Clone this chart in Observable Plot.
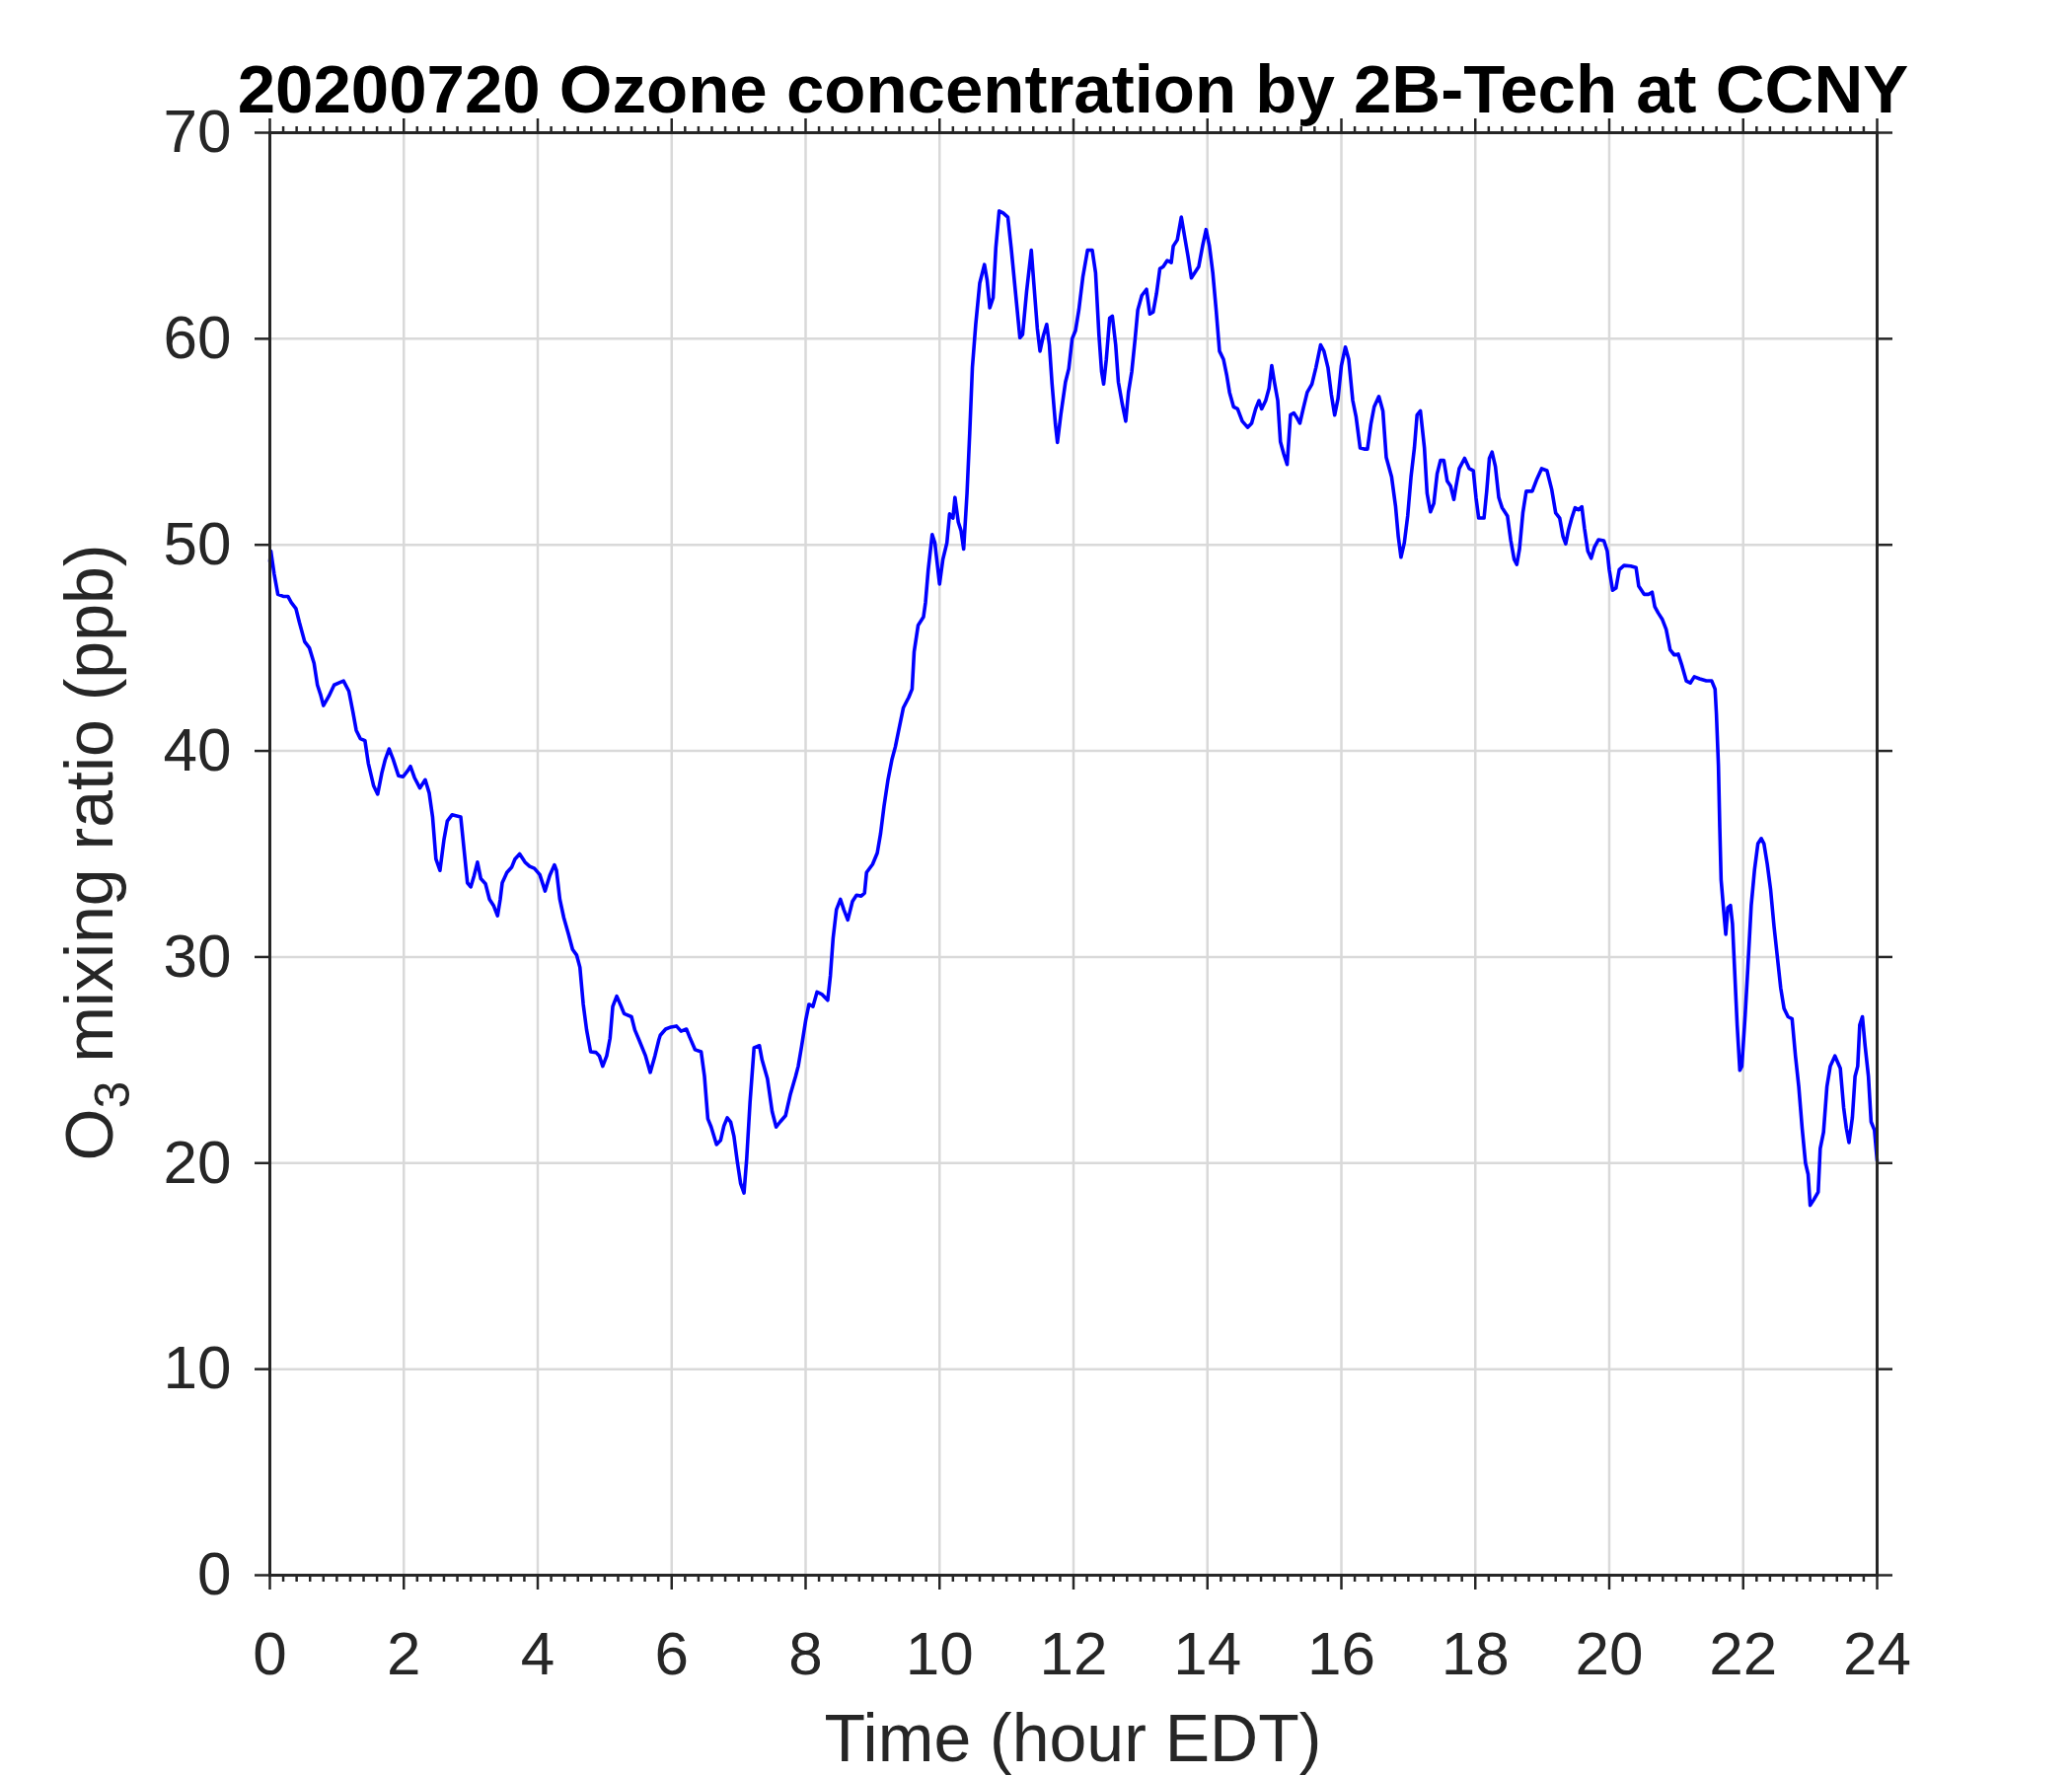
<!DOCTYPE html>
<html>
<head>
<meta charset="utf-8">
<script src="https://cdn.jsdelivr.net/npm/d3@7"></script>
<script src="https://cdn.jsdelivr.net/npm/@observablehq/plot@0.6"></script>
<style>
  body { margin: 0; background: #fff; }
  #wrap { position: relative; width: 2100px; height: 1800px; }
  #title {
    position: relative; z-index: 2; height: 120px; width: 2175px;
    text-align: center; white-space: nowrap; box-sizing: border-box;
    font-family: "Liberation Sans", Arial, sans-serif; font-weight: bold;
    font-size: 69px; line-height: 69px; padding-top: 55.6px; color: #000;
  }
  #chart svg { display: block; }
</style>
</head>
<body>
<div id="wrap">
  <div id="title">20200720 Ozone concentration by 2B-Tech at CCNY</div>
  <div id="chart"></div>
</div>
<script>
// ---- data ----
const hours = [
  0, 0.015, 0.064, 0.12, 0.2, 0.27, 0.32, 0.39, 0.44, 0.52, 0.59, 0.66, 0.71, 0.76, 0.80, 0.88, 0.96,
  1.03, 1.1, 1.18, 1.24, 1.29, 1.35, 1.42, 1.47, 1.55, 1.61, 1.67, 1.72, 1.78, 1.84, 1.92, 1.99,
  2.05, 2.1, 2.16, 2.24, 2.32, 2.38, 2.43, 2.48, 2.54, 2.60, 2.65, 2.72, 2.85, 2.90, 2.95, 3.0,
  3.05, 3.1, 3.15, 3.22, 3.28, 3.34, 3.40, 3.44, 3.47, 3.54, 3.61, 3.66, 3.73, 3.81, 3.88, 3.95, 4.03,
  4.11, 4.18, 4.25, 4.28, 4.33, 4.39, 4.46, 4.52, 4.58, 4.63, 4.68, 4.73, 4.79, 4.87, 4.92, 4.97,
  5.03, 5.08, 5.12, 5.18, 5.24, 5.29, 5.40, 5.45, 5.51, 5.61, 5.68, 5.75, 5.81, 5.83, 5.91, 5.99,
  6.07, 6.14, 6.22, 6.27, 6.35, 6.44, 6.49, 6.54, 6.59, 6.67, 6.73, 6.78, 6.83, 6.88, 6.93, 6.98,
  7.03, 7.08, 7.12, 7.17, 7.23, 7.31, 7.35, 7.43, 7.5, 7.56, 7.62, 7.70, 7.77, 7.85, 7.89, 7.94,
  8.0, 8.05, 8.11, 8.17, 8.24, 8.33, 8.37, 8.41, 8.46, 8.52, 8.57, 8.63, 8.70, 8.76, 8.83, 8.88, 8.91,
  9.0, 9.07, 9.12, 9.17, 9.23, 9.29, 9.34, 9.39, 9.46, 9.54, 9.59, 9.62, 9.68, 9.76, 9.79, 9.83, 9.89, 9.93,
  10.0, 10.05, 10.11, 10.15, 10.2, 10.23, 10.28, 10.32, 10.36, 10.41, 10.45, 10.49, 10.54, 10.6, 10.67,
  10.71, 10.75, 10.8, 10.84, 10.89, 10.95, 11.02, 11.07, 11.14, 11.2, 11.24, 11.3, 11.37, 11.41, 11.46,
  11.5, 11.55, 11.6, 11.64, 11.68, 11.73, 11.76, 11.81, 11.88, 11.93, 11.98,
  12.03, 12.08, 12.14, 12.21, 12.28, 12.33, 12.38, 12.42, 12.45, 12.49, 12.54, 12.58, 12.63, 12.67,
  12.73, 12.78, 12.82, 12.87, 12.92, 12.96, 13.02, 13.09, 13.14, 13.19, 13.24, 13.29, 13.34, 13.4,
  13.46, 13.49, 13.55, 13.61, 13.66, 13.71, 13.76, 13.81, 13.87, 13.93, 13.98,
  14.03, 14.08, 14.13, 14.18, 14.24, 14.29, 14.33, 14.39, 14.45, 14.52, 14.6, 14.66, 14.72, 14.77,
  14.81, 14.87, 14.92, 14.96, 15.0, 15.05, 15.09, 15.14, 15.19, 15.24, 15.29, 15.33, 15.38, 15.43,
  15.49, 15.56, 15.62, 15.69, 15.74, 15.8, 15.85, 15.9, 15.95, 16.0, 16.06, 16.11, 16.17, 16.22,
  16.28, 16.34, 16.39, 16.44, 16.49, 16.56, 16.62, 16.67, 16.75, 16.81, 16.85, 16.89, 16.94, 16.99,
  17.04, 17.09, 17.13, 17.18, 17.24, 17.28, 17.33, 17.38, 17.43, 17.48, 17.53, 17.58, 17.63, 17.68,
  17.71, 17.76, 17.84, 17.91, 17.97, 18.01, 18.05, 18.13, 18.17, 18.21, 18.25, 18.3, 18.35, 18.4,
  18.48, 18.53, 18.58, 18.62, 18.66, 18.71, 18.76, 18.85, 18.92, 18.99, 19.07, 19.14, 19.2, 19.26,
  19.31, 19.35, 19.39, 19.44, 19.49, 19.54, 19.59, 19.63, 19.68, 19.73, 19.78, 19.84, 19.92, 19.97,
  20.0, 20.05, 20.1, 20.15, 20.22, 20.32, 20.4, 20.44, 20.52, 20.59, 20.64, 20.68, 20.73, 20.79,
  20.85, 20.91, 20.97, 21.03, 21.08, 21.15, 21.21, 21.27, 21.35, 21.45, 21.53, 21.58, 21.6, 21.63,
  21.65, 21.67, 21.71, 21.74, 21.77, 21.81, 21.84, 21.87, 21.91, 21.95, 21.98, 22.03, 22.07, 22.12,
  22.17, 22.22, 22.27, 22.31, 22.36, 22.41, 22.46, 22.51, 22.56, 22.61, 22.67, 22.73, 22.78, 22.83,
  22.88, 22.93, 22.97, 23.0, 23.05, 23.12, 23.15, 23.2, 23.25, 23.3, 23.37, 23.45, 23.5, 23.54,
  23.58, 23.63, 23.67, 23.71, 23.74, 23.78, 23.82, 23.87, 23.91, 23.96, 24.0
];
const ozone = [
  49.2, 49.7, 48.6, 47.6, 47.5, 47.5, 47.2, 46.9, 46.25, 45.3, 45.0, 44.25, 43.2, 42.7, 42.2, 42.65, 43.2,
  43.3, 43.4, 42.9, 41.9, 41.0, 40.6, 40.5, 39.4, 38.3, 37.9, 38.9, 39.55, 40.1, 39.6, 38.8, 38.75,
  39.0, 39.25, 38.7, 38.2, 38.6, 37.95, 36.8, 34.75, 34.2, 35.7, 36.6, 36.9, 36.8, 35.2, 33.6, 33.4,
  33.95, 34.6, 33.8, 33.55, 32.8, 32.5, 32.0, 32.8, 33.6, 34.1, 34.35, 34.75, 35.0, 34.6, 34.4, 34.3, 34.0,
  33.2, 33.96, 34.47, 34.2, 32.8, 31.9, 31.1, 30.37, 30.1, 29.5, 27.7, 26.46, 25.4, 25.37, 25.2, 24.7,
  25.2, 26.06, 27.6, 28.1, 27.65, 27.25, 27.1, 26.46, 26.0, 25.2, 24.4, 25.2, 26.0, 26.2, 26.5, 26.6,
  26.65, 26.4, 26.5, 26.1, 25.5, 25.4, 24.2, 22.15, 21.75, 20.9, 21.1, 21.8, 22.2, 22.0, 21.3, 20.07,
  19.0, 18.55, 20.2, 22.95, 25.6, 25.7, 25.0, 24.1, 22.5, 21.75, 22.0, 22.3, 23.3, 24.2, 24.7, 25.66,
  26.9, 27.7, 27.6, 28.3, 28.2, 27.9, 29.1, 30.9, 32.3, 32.8, 32.3, 31.8, 32.7, 33.0, 32.96, 33.1, 34.1,
  34.5, 35.05, 36.0, 37.3, 38.6, 39.6, 40.2, 41.0, 42.1, 42.6, 43.0, 44.8, 46.1, 46.5, 47.2, 48.75, 50.5, 50.1,
  48.1, 49.3, 50.1, 51.5, 51.3, 52.3, 51.1, 50.7, 49.8, 52.5, 55.4, 58.6, 60.7, 62.7, 63.6,
  62.85, 61.5, 62.0, 64.4, 66.2, 66.1, 65.9, 64.4, 62.05, 60.05, 60.2, 62.3, 64.3, 62.6, 60.5,
  59.4, 60.15, 60.7, 59.7, 57.8, 55.85, 54.97, 56.3, 57.9, 58.55, 60.0,
  60.4, 61.4, 63.0, 64.3, 64.3, 63.2, 60.2, 58.4, 57.8, 59.0, 61.0, 61.1, 59.7, 57.9,
  56.8, 56.0, 57.4, 58.4, 60.0, 61.4, 62.1, 62.4, 61.2, 61.3, 62.2, 63.4, 63.5, 63.8,
  63.7, 64.5, 64.8, 65.9, 64.95, 64.0, 62.95, 63.2, 63.5, 64.55, 65.3,
  64.5, 63.2, 61.4, 59.4, 59.0, 58.2, 57.4, 56.7, 56.6, 56.0, 55.7, 55.9, 56.6, 57.0,
  56.6, 57.0, 57.6, 58.7, 57.9, 57.0, 55.0, 54.4, 53.9, 56.3, 56.4, 56.2, 55.9, 56.6,
  57.4, 57.8, 58.6, 59.7, 59.4, 58.6, 57.3, 56.3, 57.1, 58.7, 59.6, 59.0, 57.0, 56.2,
  54.7, 54.65, 54.65, 55.85, 56.7, 57.2, 56.5, 54.25, 53.3, 51.85, 50.4, 49.4, 50.1, 51.4,
  53.3, 54.7, 56.3, 56.5, 54.7, 52.5, 51.6, 52.0, 53.45, 54.1, 54.1, 53.1, 52.86, 52.2,
  52.8, 53.7, 54.2, 53.7, 53.6, 52.3, 51.3, 51.3, 52.6, 54.2, 54.5, 53.8, 52.3, 51.8,
  51.4, 50.2, 49.3, 49.05, 49.8, 51.55, 52.6, 52.6, 53.2, 53.7, 53.6, 52.7, 51.55, 51.3,
  50.4, 50.05, 50.7, 51.3, 51.8, 51.7, 51.85, 50.8, 49.7, 49.35, 49.9, 50.25, 50.2, 49.7,
  48.8, 47.8, 47.9, 48.8, 49.0, 48.97, 48.9, 48.0, 47.6, 47.6, 47.7, 47.0, 46.7, 46.4,
  45.9, 44.9, 44.66, 44.7, 44.2, 43.4, 43.3, 43.6, 43.5, 43.4, 43.4, 43.0, 41.8, 39.3,
  36.3, 33.75, 32.2, 31.1, 32.4, 32.5, 31.6, 29.5, 26.7, 24.5, 24.7, 27.2, 29.5, 32.5,
  34.25, 35.5, 35.75, 35.5, 34.5, 33.25, 31.5, 30.0, 28.5, 27.5, 27.1, 27.0, 25.2, 23.7,
  21.7, 20.0, 19.45, 17.95, 18.2, 18.6, 20.7, 21.5, 23.7, 24.7, 25.2, 24.6, 22.7, 21.7,
  21.0, 22.2, 24.2, 24.7, 26.7, 27.1, 25.7, 24.2, 22.0, 21.6, 20.1
];
const xTicks = [0, 2, 4, 6, 8, 10, 12, 14, 16, 18, 20, 22, 24];
const yTicks = [0, 10, 20, 30, 40, 50, 60, 70];
const xMinorTicks = d3.range(0, 121).filter(i => i % 10 !== 0).map(i => i / 5);
const xLabel = "Time (hour EDT)";
const yLabelMain = "O";
const yLabelSub = "3";
const yLabelRest = " mixing ratio (ppb)";

const rows = hours.map((h, i) => ({hour: h, o3: ozone[i]}));

const axisColor = "#262626";
const gridColor = "#d9d9d9";

const chart = Plot.plot({
  width: 2100,
  height: 1680,
  marginTop: 14,
  marginLeft: 273,
  marginRight: 198,
  marginBottom: 204,
  style: {
    fontFamily: '"Liberation Sans", Arial, sans-serif',
    fontSize: "62px",
    color: axisColor,
    background: "transparent",
    overflow: "visible"
  },
  x: {domain: [0, 24]},
  y: {domain: [0, 70]},
  marks: [
    Plot.gridX({ticks: xTicks, stroke: gridColor, strokeOpacity: 1, strokeWidth: 2.5}),
    Plot.gridY({ticks: yTicks, stroke: gridColor, strokeOpacity: 1, strokeWidth: 2.5}),
    Plot.line(rows, {x: "hour", y: "o3", stroke: "#0000ff", strokeWidth: 3.6, strokeLinejoin: "round"}),
    Plot.frame({stroke: axisColor, strokeWidth: 3}),
    Plot.axisX({anchor: "bottom", ticks: xTicks, tickSize: 15, tickPadding: 41, fontSize: 62, strokeWidth: 2.5, label: null}),
    Plot.axisX({anchor: "bottom", ticks: xMinorTicks, tickSize: 7, tickFormat: () => "", strokeWidth: 2.5, label: null}),
    Plot.axisX({anchor: "top", ticks: xTicks, tickSize: 15, tickFormat: () => "", strokeWidth: 2.5, label: null}),
    Plot.axisX({anchor: "top", ticks: xMinorTicks, tickSize: 7, tickFormat: () => "", strokeWidth: 2.5, label: null}),
    Plot.axisY({anchor: "left", ticks: yTicks, tickSize: 15, tickPadding: 24, fontSize: 62, strokeWidth: 2.5, label: null}),
    Plot.axisY({anchor: "right", ticks: yTicks, tickSize: 15, tickFormat: () => "", strokeWidth: 2.5, label: null})
  ]
});

document.getElementById("chart").appendChild(chart);

// Axis titles
const svg = d3.select(chart);
svg.append("text")
  .attr("x", 1087.5)
  .attr("y", 1665)
  .attr("text-anchor", "middle")
  .attr("fill", axisColor)
  .attr("font-size", 68)
  .text(xLabel);

const yl = svg.append("text")
  .attr("transform", "translate(114,744) rotate(-90)")
  .attr("text-anchor", "middle")
  .attr("fill", axisColor)
  .attr("font-size", 68);
yl.append("tspan").text(yLabelMain);
yl.append("tspan").attr("font-size", 50).attr("dy", 17).text(yLabelSub);
yl.append("tspan").attr("dy", -17).text(yLabelRest);
</script>
</body>
</html>
